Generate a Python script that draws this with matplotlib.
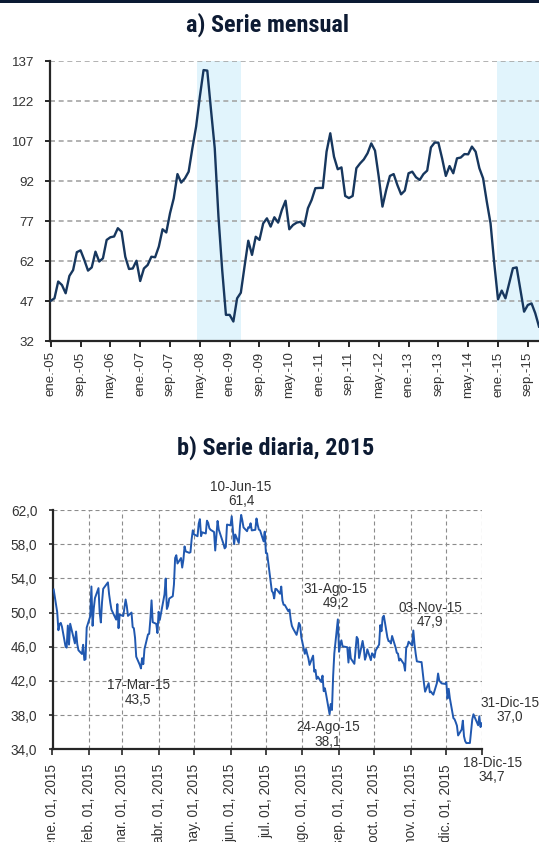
import matplotlib
matplotlib.use("Agg")
import matplotlib.pyplot as plt
from matplotlib import font_manager
from matplotlib.patches import Rectangle
import pandas as pd

# ---------------- data ----------------
monthly_values = [
    47.1, 48.0, 54.3, 53.0, 49.9, 56.4, 58.6, 65.3, 66.0, 62.4, 58.4, 59.6,
    65.5, 61.8, 63.0, 69.9, 70.9, 71.2, 74.3, 73.0, 63.6, 59.0, 59.2, 62.1,
    54.5, 59.2, 60.5, 63.6, 63.4, 67.4, 73.9, 72.7, 79.9, 85.5, 94.6, 91.4,
    93.0, 95.5, 104.3, 112.4, 123.6, 133.6, 133.4, 118.6, 104.3, 78.6, 58.6, 41.8,
    41.8, 39.3, 48.0, 50.1, 60.0, 69.6, 64.3, 71.1, 69.9, 76.1, 78.0, 74.9,
    78.4, 76.4, 81.1, 84.6, 73.9, 75.5, 76.4, 76.7, 75.1, 81.8, 84.9, 89.3,
    89.4, 89.4, 103.0, 109.9, 101.1, 96.4, 97.1, 86.4, 85.6, 86.4, 96.8, 98.6,
    100.1, 102.4, 106.1, 103.4, 93.6, 82.4, 88.6, 93.9, 94.6, 90.5, 87.0, 88.4,
    94.9, 95.5, 93.4, 92.4, 94.6, 95.9, 104.6, 106.4, 106.4, 100.5, 93.9, 97.6,
    94.9, 100.5, 100.8, 102.1, 102.0, 104.9, 103.0, 96.8, 93.0, 84.2, 76.1, 61.1,
    47.6, 50.9, 48.0, 53.6, 59.3, 59.6, 51.4, 43.0, 45.5, 46.1, 42.4, 37.4,
]
monthly_tick_labels = ["ene.-05", "sep.-05", "may.-06", "ene.-07", "sep.-07", "may.-08",
                       "ene.-09", "sep.-09", "may.-10", "ene.-11", "sep.-11", "may.-12",
                       "ene.-13", "sep.-13", "may.-14", "ene.-15", "sep.-15"]
monthly_yticks = [32, 47, 62, 77, 92, 107, 122, 137]
shade_periods = [(39.3, 51.1), (119.7, 132.0)]  # month index ranges

daily_dates = [
    # ene
    "01-02", "01-05", "01-06", "01-07", "01-08", "01-09", "01-12", "01-13", "01-14", "01-15",
    "01-16", "01-20", "01-21", "01-22", "01-23", "01-26", "01-27", "01-28", "01-29", "01-30",
    # feb
    "02-02", "02-03", "02-04", "02-05", "02-06", "02-09", "02-10", "02-11", "02-12", "02-13",
    "02-17", "02-18", "02-19", "02-20", "02-23", "02-24", "02-25", "02-26", "02-27",
    # mar
    "03-02", "03-03", "03-04", "03-05", "03-06", "03-09", "03-10", "03-11", "03-12", "03-13",
    "03-16", "03-17", "03-18", "03-19", "03-20", "03-23", "03-24", "03-25", "03-26", "03-27",
    "03-30", "03-31",
    # abr
    "04-01", "04-02", "04-06", "04-07", "04-08", "04-09", "04-10", "04-13", "04-14", "04-15",
    "04-16", "04-17", "04-20", "04-21", "04-22", "04-23", "04-24", "04-27", "04-28", "04-29",
    "04-30",
    # may
    "05-01", "05-04", "05-05", "05-06", "05-07", "05-08", "05-11", "05-12", "05-13", "05-14",
    "05-15", "05-18", "05-19", "05-20", "05-21", "05-22", "05-26", "05-27", "05-28", "05-29",
    # jun
    "06-01", "06-02", "06-03", "06-04", "06-05", "06-08", "06-09", "06-10", "06-11", "06-12",
    "06-15", "06-16", "06-17", "06-18", "06-19", "06-22", "06-23", "06-24", "06-25", "06-26",
    "06-29", "06-30",
    # jul
    "07-01", "07-02", "07-06", "07-07", "07-08", "07-09", "07-10", "07-13", "07-14", "07-15",
    "07-16", "07-17", "07-20", "07-21", "07-22", "07-23", "07-24", "07-27", "07-28", "07-29",
    "07-30", "07-31",
    # ago
    "08-03", "08-04", "08-05", "08-06", "08-07", "08-10", "08-11", "08-12", "08-13", "08-14",
    "08-17", "08-18", "08-19", "08-20", "08-21", "08-24", "08-25", "08-26", "08-27", "08-28",
    "08-31",
    # sep
    "09-01", "09-02", "09-03", "09-04", "09-08", "09-09", "09-10", "09-11", "09-14", "09-15",
    "09-16", "09-17", "09-18", "09-21", "09-22", "09-23", "09-24", "09-25", "09-28", "09-29",
    "09-30",
    # oct
    "10-01", "10-02", "10-05", "10-06", "10-07", "10-08", "10-09", "10-12", "10-13", "10-14",
    "10-15", "10-16", "10-19", "10-20", "10-21", "10-22", "10-23", "10-26", "10-27", "10-28",
    "10-29", "10-30",
    # nov
    "11-02", "11-03", "11-04", "11-05", "11-06", "11-09", "11-10", "11-11", "11-12", "11-13",
    "11-16", "11-17", "11-18", "11-19", "11-20", "11-23", "11-24", "11-25", "11-27", "11-30",
    # dic
    "12-01", "12-02", "12-03", "12-04", "12-07", "12-08", "12-09", "12-10", "12-11", "12-14",
    "12-15", "12-16", "12-17", "12-18", "12-21", "12-22", "12-23", "12-24", "12-28", "12-29",
    "12-30", "12-31",
]
daily_values = [
    52.69, 50.04, 47.93, 48.65, 48.79, 48.36, 46.07, 45.89, 48.48, 46.25,
    48.69, 46.39, 47.78, 46.31, 45.59, 45.15, 46.23, 44.45, 44.53, 48.24,
    49.57, 53.05, 48.45, 50.48, 51.69, 52.86, 50.02, 48.84, 51.21, 52.78,
    53.53, 52.14, 51.16, 50.34, 49.45, 49.17, 50.99, 48.17, 49.76,
    49.59, 50.52, 51.53, 50.76, 49.61, 50.00, 48.29, 48.17, 47.05, 44.84,
    43.88, 43.46, 44.66, 43.96, 45.72, 47.45, 47.51, 49.21, 51.43, 48.87,
    48.68, 47.60,
    50.09, 49.14, 52.14, 53.98, 50.42, 50.79, 51.64, 51.91, 53.29, 56.39,
    56.71, 55.74, 56.38, 55.26, 56.16, 57.74, 57.15, 56.99, 57.06, 58.58,
    59.63,
    59.15, 58.93, 60.40, 60.93, 58.94, 59.39, 59.25, 60.75, 60.50, 59.88,
    59.69, 59.43, 57.26, 58.98, 60.72, 59.72, 58.03, 57.51, 57.68, 60.30,
    60.20, 61.26, 59.64, 58.00, 59.13, 58.14, 60.14, 61.43, 60.77, 59.96,
    59.52, 59.97, 59.92, 60.45, 59.61, 59.68, 61.01, 60.27, 59.70, 59.63,
    58.33, 59.47,
    56.96, 56.93, 52.53, 52.33, 51.65, 52.78, 52.74, 52.20, 53.04, 51.41,
    50.91, 50.89, 50.15, 50.36, 49.19, 48.45, 48.14, 47.39, 47.98, 48.79,
    48.52, 47.12,
    45.17, 45.74, 45.15, 44.66, 43.87, 44.96, 43.08, 43.30, 42.23, 42.50,
    41.87, 42.62, 40.80, 41.14, 40.45, 38.10, 39.31, 38.60, 42.56, 45.22,
    49.20,
    45.41, 46.25, 46.75, 46.05, 45.94, 44.15, 45.92, 44.63, 44.00, 45.59,
    47.15, 46.90, 44.68, 46.68, 45.83, 44.48, 44.91, 45.70, 44.43, 45.23,
    45.09,
    44.74, 45.54, 46.26, 48.53, 47.81, 49.43, 49.63, 47.10, 46.66, 46.64,
    46.38, 47.26, 45.89, 45.29, 45.20, 44.38, 44.60, 43.98, 43.20, 45.94,
    46.06, 46.59,
    46.14, 47.90, 46.32, 45.20, 44.29, 44.21, 44.21, 42.93, 41.75, 40.74,
    41.74, 40.67, 40.75, 40.54, 40.39, 41.75, 42.87, 42.04, 41.71, 41.65,
    41.85, 39.94, 41.08, 39.97, 37.65, 37.51, 37.16, 36.76, 35.62, 36.31,
    37.35, 35.52, 34.95, 34.73, 34.74, 36.14, 37.50, 38.10, 36.81, 37.87,
    36.60, 37.04,
]
daily_month_labels = ["ene. 01, 2015", "feb. 01, 2015", "mar. 01, 2015", "abr. 01, 2015",
                      "may. 01, 2015", "jun. 01, 2015", "jul. 01, 2015", "ago. 01, 2015",
                      "sep. 01, 2015", "oct. 01, 2015", "nov. 01, 2015", "dic. 01, 2015", ""]
daily_tick_dates = ["2015-01-01", "2015-02-01", "2015-03-01", "2015-04-01", "2015-05-01",
                    "2015-06-01", "2015-07-01", "2015-08-01", "2015-09-01", "2015-10-01",
                    "2015-11-01", "2015-12-01", "2015-12-31"]
daily_yticks = [34, 38, 42, 46, 50, 54, 58, 62]

# (date, value, label, value label)
daily_notes = [
    ("06-10", 61.43, "10-Jun-15", "61,4"),
    ("03-17", 43.46, "17-Mar-15", "43,5"),
    ("08-31", 49.20, "31-Ago-15", "49,2"),
    ("11-03", 47.90, "03-Nov-15", "47,9"),
    ("08-24", 38.10, "24-Ago-15", "38,1"),
    ("12-31", 37.04, "31-Dic-15", "37,0"),
    ("12-18", 34.73, "18-Dic-15", "34,7"),
]
note_offsets = [(0, 15), (-2, -17.5), (-1.5, 17), (12.3, 11.3), (-1, -14.5), (20.4, 9.7), (18.5, -19.5)]

# ---------------- fonts ----------------
available = {f.name for f in font_manager.fontManager.ttflist}
title_font = "DejaVu Sans"
for cand in ["Roboto Condensed", "Liberation Sans Narrow", "Open Sans Condensed", "Arial Narrow"]:
    if cand in available:
        title_font = cand
        break
base_font = "Liberation Sans" if "Liberation Sans" in available else "DejaVu Sans"
plt.rcParams["font.family"] = [base_font, "DejaVu Sans"]

TITLE_COLOR = "#0d1b33"
TEXT_COLOR = "#333333"
SPINE_COLOR = "#262626"

fig = plt.figure(figsize=(5.39, 8.42), dpi=100)
fig.patches.append(Rectangle((0, 1 - 3 / 842), 1, 3 / 842, transform=fig.transFigure,
                             facecolor="#0b1a33", edgecolor="none", zorder=0))

title_kw = dict(fontsize=17.5, fontweight="bold", color=TITLE_COLOR, ha="center", va="center",
                family=[title_font, "DejaVu Sans"])
if title_font == "DejaVu Sans":
    title_kw["fontstretch"] = "condensed"
fig.text(0.497, 1 - 25 / 842, "a) Serie mensual", **title_kw)
fig.text(0.511, 1 - 448 / 842, "b) Serie diaria, 2015", **title_kw)

# ---------------- a) monthly ----------------
ax1 = fig.add_axes([50 / 539, 1 - 341 / 842, 1 - 50 / 539, (341 - 61) / 842])
months = list(range(len(monthly_values)))
for a, b in shade_periods:
    ax1.axvspan(a, b, color="#e1f4fc", lw=0, zorder=0)
ax1.plot(months, monthly_values, color="#17375e", lw=1.7, zorder=3)
ax1.set_xlim(-0.2, 131.0)
ax1.set_ylim(32, 137)
ax1.set_yticks(monthly_yticks)
ax1.set_xticks(list(range(0, 8 * len(monthly_tick_labels), 8)))
ax1.set_xticklabels(monthly_tick_labels, rotation=90, fontsize=9.5, color=TEXT_COLOR)
ax1.set_yticklabels([str(v) for v in monthly_yticks], fontsize=9.6, color=TEXT_COLOR)
ax1.yaxis.grid(True, color="#a6a6a6", lw=1.2, linestyle=(0, (3, 2.2)), zorder=1)
ax1.set_axisbelow(True)
for s in ["top", "right"]:
    ax1.spines[s].set_visible(False)
for s in ["left", "bottom"]:
    ax1.spines[s].set_color(SPINE_COLOR)
    ax1.spines[s].set_linewidth(1.6)
ax1.tick_params(axis="x", direction="out", length=4, width=1.4, color=SPINE_COLOR, pad=3.5)
ax1.tick_params(axis="y", direction="out", length=3.5, width=1.4, color=SPINE_COLOR, pad=8)

# ---------------- b) daily ----------------
ax2 = fig.add_axes([52.5 / 539, 1 - 749.3 / 842, (481.7 - 52.5) / 539, (749.3 - 510) / 842])
dates = pd.to_datetime(["2015-" + d for d in daily_dates])
ax2.plot(dates, daily_values, color="#2058b0", lw=1.4, zorder=3)
ax2.set_xlim(pd.Timestamp("2015-01-01"), pd.Timestamp("2015-12-31"))
ax2.set_ylim(34, 62)
ax2.set_yticks(daily_yticks)
ax2.set_yticklabels([f"{v:.1f}".replace(".", ",") for v in daily_yticks], fontsize=9.8, color=TEXT_COLOR)
ax2.set_xticks(pd.to_datetime(daily_tick_dates))
ax2.set_xticklabels(daily_month_labels, rotation=90, fontsize=9.8, color=TEXT_COLOR, va="top")
ax2.grid(True, color="#8c8c8c", lw=0.8, linestyle=(0, (3.6, 2.7)), zorder=1)
ax2.set_axisbelow(True)
for s in ["top", "right"]:
    ax2.spines[s].set_visible(False)
for s in ["left", "bottom"]:
    ax2.spines[s].set_color(SPINE_COLOR)
    ax2.spines[s].set_linewidth(1.6)
ax2.tick_params(axis="x", direction="out", length=4.5, width=1.2, color=SPINE_COLOR, pad=6)
ax2.tick_params(axis="y", direction="out", length=3, width=1.2, color=SPINE_COLOR, pad=8)

for (d, v, lab, val), (dx, dy) in zip(daily_notes, note_offsets):
    ax2.annotate(f"{lab}\n{val}", xy=(pd.Timestamp("2015-" + d), v), xytext=(dx, dy),
                 textcoords="offset points", ha="center", va="center", fontsize=9.8,
                 color=TEXT_COLOR, linespacing=1.05, annotation_clip=False, zorder=5)

fig.savefig("out.png", dpi=100)
